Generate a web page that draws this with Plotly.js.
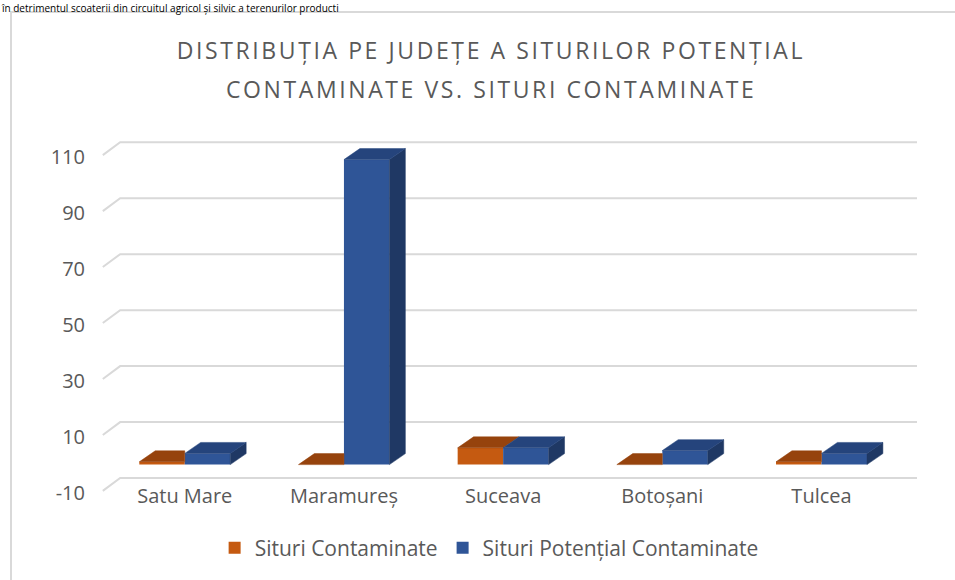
<!DOCTYPE html>
<html>
<head>
<meta charset="utf-8">
<script src="https://cdn.plot.ly/plotly-3.0.1.min.js"></script>
<style>
  html, body { margin: 0; padding: 0; background: #ffffff; overflow: hidden; }
  #frame { position: absolute; left: 10px; top: 11px; width: 1000px; height: 620px;
           border: 2px solid #d9d9d9; box-sizing: border-box; z-index: 0; }
  #chart { position: absolute; left: 0; top: 0; width: 955px; height: 580px; z-index: 1; }
</style>
</head>
<body>
<div id="frame"></div>
<div id="chart"></div>
<script>
// ---- data ----
const categories = ['Satu Mare', 'Maramureș', 'Suceava', 'Botoșani', 'Tulcea'];
const situriContaminate = [1, 0, 6, 0, 1];
const situriPotentialContaminate = [4, 109, 6, 5, 4];
const yTickVals = [-10, 10, 30, 50, 70, 90, 110];
const yTickText = ['-10', '10', '30', '50', '70', '90', '110'];
const seriesNames = ['Situri Contaminate', 'Situri Potențial Contaminate'];
const titleLines = ['DISTRIBUȚIA PE JUDEȚE A SITURILOR POTENȚIAL', 'CONTAMINATE VS. SITURI CONTAMINATE'];
const pageText = 'în detrimentul scoaterii din circuitul agricol și silvic a terenurilor producti';

// ---- styling / 3D look constants ----
const BAR_W = 0.2857;   // bar width in category units
const DX = 0.1;         // depth shift (x units)
const DY = 3.93;        // depth shift (y units)
const GRID_FRONT = 0.6, GRID_DY = 5.2, GRID_X0 = -0.515, GRID_X1 = -0.406, GRID_X2 = 4.61;
const C_OR_FRONT = '#C55A11', C_OR_TOP = '#96430D';
const C_BL_FRONT = '#2F5597', C_BL_TOP = '#25447C', C_BL_SIDE = '#1F3864';
const GRID_COLOR = '#d9d9d9', TEXT_COLOR = '#595959';
const FONT = 'Open Sans, sans-serif';

const idx = categories.map((_, i) => i);

// gridlines (back wall + floor stub), derived from tick values, drawn below the bars
const gridShapes = yTickVals.map(t => ({
  type: 'path', xref: 'x', yref: 'y', layer: 'below',
  path: 'M' + GRID_X0 + ',' + (t + GRID_FRONT) + ' L' + GRID_X1 + ',' + (t + GRID_DY) +
        ' L' + GRID_X2 + ',' + (t + GRID_DY),
  line: { color: GRID_COLOR, width: 2 }
}));

// orange top faces (clipped behind taller blue bar)
const otx = [], oty = [];
idx.forEach(i => {
  const o = situriContaminate[i], b = situriPotentialContaminate[i];
  const l = i - BAR_W, r = i;
  if (b > o) {
    otx.push(l, r, r, l + DX, l, null);
  } else {
    otx.push(l, r, r + DX, l + DX, l, null);
  }
  oty.push(o, o, o + DY, o + DY, o, null);
});
// blue top and side faces
const btx = [], bty = [], bsx = [], bsy = [];
idx.forEach(i => {
  const b = situriPotentialContaminate[i];
  const l = i, r = i + BAR_W;
  btx.push(l, r, r + DX, l + DX, l, null);
  bty.push(b, b, b + DY, b + DY, b, null);
  bsx.push(r, r + DX, r + DX, r, r, null);
  bsy.push(0, DY, b + DY, b, 0, null);
});

const poly = (x, y, c) => ({
  type: 'scatter', mode: 'lines', x: x, y: y, fill: 'toself', fillcolor: c,
  line: { color: c, width: 0.5 }, showlegend: false, hoverinfo: 'skip'
});

const data = [
  { type: 'bar', name: seriesNames[0], x: idx, y: situriContaminate, width: BAR_W, offset: -BAR_W,
    marker: { color: C_OR_FRONT, line: { width: 0 } } },
  { type: 'bar', name: seriesNames[1], x: idx, y: situriPotentialContaminate, width: BAR_W, offset: 0,
    marker: { color: C_BL_FRONT, line: { width: 0 } } },
  poly(otx, oty, C_OR_TOP),
  poly(bsx, bsy, C_BL_SIDE),
  poly(btx, bty, C_BL_TOP)
];

const spaced = s => '<span style="letter-spacing:2.6px">' + s + '</span>';

const layout = {
  width: 955, height: 580,
  margin: { l: 102, r: 38, t: 140, b: 86 },
  paper_bgcolor: 'rgba(0,0,0,0)', plot_bgcolor: 'rgba(0,0,0,0)',
  font: { family: FONT, color: TEXT_COLOR, size: 20 },
  barmode: 'overlay',
  shapes: gridShapes,
  title: { text: spaced(titleLines[0]), font: { family: FONT, size: 23, color: TEXT_COLOR },
           xref: 'container', x: 0.514, xanchor: 'center', yref: 'container', y: 0.912, yanchor: 'middle' },
  xaxis: { range: [-0.52, 4.6], tickvals: idx, ticktext: categories, showgrid: false, zeroline: false,
           showline: false, ticks: '', anchor: 'free', position: 0.034,
           tickfont: { family: FONT, size: 20, color: TEXT_COLOR } },
  yaxis: { range: [-10.5, 116], tickvals: yTickVals, ticktext: yTickText, showgrid: false, zeroline: false,
           showline: false, ticks: '', ticklabelstandoff: 16,
           tickfont: { family: FONT, size: 20, color: TEXT_COLOR } },
  showlegend: true,
  legend: { orientation: 'h', x: 0.475, xanchor: 'center', y: -0.1525, yanchor: 'middle',
            font: { family: FONT, size: 21, color: TEXT_COLOR }, traceorder: 'normal' },
  annotations: [
    { text: spaced(titleLines[1]), xref: 'paper', yref: 'paper', x: 0.477, y: 1.144, xanchor: 'center', yanchor: 'middle',
      showarrow: false, font: { family: FONT, size: 23, color: TEXT_COLOR } },
    { text: pageText, xref: 'paper', yref: 'paper', x: -0.125, y: 1.3955, xanchor: 'left', yanchor: 'top',
      showarrow: false, borderpad: 0, font: { family: FONT, size: 10, color: '#000000' } }
  ]
};

Plotly.newPlot('chart', data, layout, { displayModeBar: false, staticPlot: true });
</script>
</body>
</html>
